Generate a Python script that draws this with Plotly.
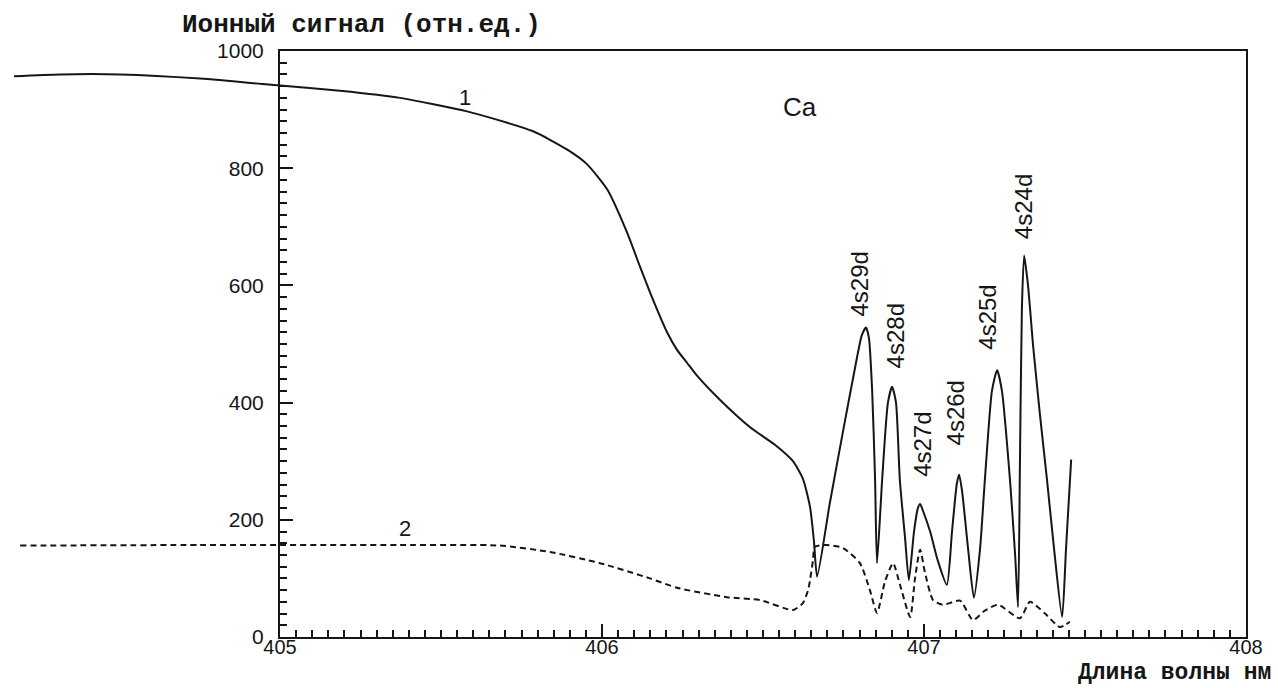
import plotly.graph_objects as go

# Curve 1: ion signal (solid), wavelength in nm
wl_1 = [404.174, 404.317, 404.503, 404.752, 405.000, 405.186, 405.373, 405.581,
        405.786, 405.891, 405.953, 406.016, 406.078, 406.118, 406.158, 406.202,
        406.233, 406.264, 406.295, 406.366, 406.460, 406.537, 406.593, 406.624,
        406.646, 406.658, 406.668, 406.708, 406.755, 406.786, 406.807, 406.820,
        406.829, 406.839, 406.848, 406.854, 406.870, 406.888, 406.901, 406.913,
        406.925, 406.941, 406.953, 406.969, 406.981, 406.988, 406.997, 407.019,
        407.043, 407.071, 407.087, 407.102, 407.109, 407.118, 407.137, 407.155,
        407.174, 407.189, 407.211, 407.227, 407.242, 407.267, 407.283, 407.292,
        407.298, 407.304, 407.311, 407.323, 407.339, 407.360, 407.382, 407.404,
        407.429, 407.441, 407.457]
sig_1 = [957, 960, 960, 953, 941, 932, 920, 897,
         863, 832, 807, 764, 690, 632, 576, 520,
         490, 468, 446, 405, 358, 328, 300, 270,
         222, 165, 103, 230, 370, 460, 515, 528,
         510, 420, 270, 126, 268, 400, 427, 400,
         268, 170, 97, 180, 220, 227, 215, 180,
         130, 89, 180, 262, 277, 250, 150, 67,
         150, 268, 420, 455, 420, 268, 140, 51,
         300, 560, 651, 600, 496, 380, 268, 150,
         34, 150, 303]

# Curve 2: ion signal (dashed)
wl_2 = [404.193, 404.752, 405.373, 405.683, 405.839, 405.994, 406.149, 406.233,
        406.388, 406.491, 406.593, 406.624, 406.640, 406.646, 406.655, 406.661,
        406.699, 406.748, 406.801, 406.832, 406.854, 406.879, 406.904, 406.925,
        406.957, 406.972, 406.988, 407.003, 407.028, 407.059, 407.112, 407.152,
        407.189, 407.230, 407.298, 407.329, 407.376, 407.422, 407.453]
sig_2 = [156, 157, 157, 156, 145, 126, 100, 84,
         68, 63, 46, 58, 80, 97, 130, 154,
         157, 152, 126, 80, 41, 95, 126, 90,
         34, 100, 149, 110, 63, 55, 62, 29,
         45, 55, 32, 60, 40, 17, 26]

# Resonance labels and their positions (wavelength, signal)
peak_labels = ["4s29d", "4s28d", "4s27d", "4s26d", "4s25d", "4s24d"]
peak_label_x = [406.801, 406.910, 406.997, 407.099, 407.199, 407.307]
peak_label_y = [603, 513, 328, 383, 545, 735]

x_ticks = [405, 406, 407, 408]
y_ticks = [0, 200, 400, 600, 800, 1000]

INK = "#161616"
SANS = "Liberation Sans, Arial, sans-serif"
MONO = "Liberation Mono, Courier New, monospace"

W, H = 1278, 688
M_L, M_R, M_T, M_B = 0, 32, 51, 51
X_MIN, X_MAX = 404.1304, 408.0
plot_w = W - M_L - M_R
plot_h = H - M_T - M_B
frame_left = (x_ticks[0] - X_MIN) / (X_MAX - X_MIN)

fig = go.Figure()
fig.add_trace(go.Scatter(
    x=wl_1, y=sig_1, mode="lines",
    line=dict(color=INK, width=2, shape="spline", smoothing=0.6),
    showlegend=False))
fig.add_trace(go.Scatter(
    x=wl_2, y=sig_2, mode="lines",
    line=dict(color=INK, width=2, dash="6px,4px", shape="spline", smoothing=0.6),
    showlegend=False))
# empty trace that puts the framed wavelength axis on the page
fig.add_trace(go.Scatter(x=[], y=[], xaxis="x2", yaxis="y", mode="lines",
                         showlegend=False, hoverinfo="skip"))

# curve numbers and element label
fig.add_annotation(x=405.575, y=921, text="1", showarrow=False,
                   font=dict(family=SANS, size=22, color=INK))
fig.add_annotation(x=405.388, y=186, text="2", showarrow=False,
                   font=dict(family=SANS, size=22, color=INK))
fig.add_annotation(x=406.615, y=904, text="Ca", showarrow=False,
                   font=dict(family=SANS, size=26, color=INK))

for lab, lx, ly in zip(peak_labels, peak_label_x, peak_label_y):
    fig.add_annotation(x=lx, y=ly, text=lab, showarrow=False, textangle=-90,
                       font=dict(family=SANS, size=24, color=INK))

# axis captions
fig.add_annotation(xref="paper", yref="paper", x=180 / plot_w, y=1 + (M_T - 25) / plot_h,
                   xanchor="left", yanchor="middle", text="<b>Ионный сигнал (отн.ед.)</b>",
                   showarrow=False, font=dict(family=MONO, size=26, color=INK))
fig.add_annotation(xref="paper", yref="paper", x=1272 / plot_w, y=-(M_B - 1) / plot_h,
                   xanchor="right", yanchor="bottom", text="<b>Длина волны нм</b>",
                   showarrow=False, borderpad=0,
                   font=dict(family=MONO, size=23, color=INK))

axis_common = dict(showgrid=False, zeroline=False, showline=True, mirror=True,
                   linecolor=INK, linewidth=2, ticks="inside", ticklen=13,
                   tickwidth=2, tickcolor=INK, automargin=False,
                   tickfont=dict(family=SANS, size=21, color=INK))

fig.update_layout(
    width=W, height=H,
    margin=dict(l=M_L, r=M_R, t=M_T, b=M_B, autoexpand=False),
    paper_bgcolor="white", plot_bgcolor="rgba(0,0,0,0)",
    # data axis spans the full width so the curves run past the frame on the left
    xaxis=dict(range=[X_MIN, X_MAX], domain=[0, 1], visible=False, anchor="y",
               automargin=False),
    # framed wavelength axis
    xaxis2=dict(range=[x_ticks[0], x_ticks[-1]], domain=[frame_left, 1], anchor="y",
                tickmode="array", tickvals=x_ticks, ticktext=[str(v) for v in x_ticks],
                ticklabelstandoff=-9,
                minor=dict(dtick=0.05, tick0=405, ticks="inside", ticklen=7,
                           tickwidth=1.5, tickcolor=INK, showgrid=False),
                **dict(axis_common, tickfont=dict(family=SANS, size=20, color=INK))),
    yaxis=dict(range=[0, 1000], anchor="x2",
               tickmode="array", tickvals=y_ticks, ticktext=[str(v) for v in y_ticks],
               ticklabelstandoff=10,
               minor=dict(dtick=20, tick0=0, ticks="inside", ticklen=7,
                          tickwidth=1.5, tickcolor=INK, showgrid=False),
               **axis_common),
)

fig.write_html("out.html")
